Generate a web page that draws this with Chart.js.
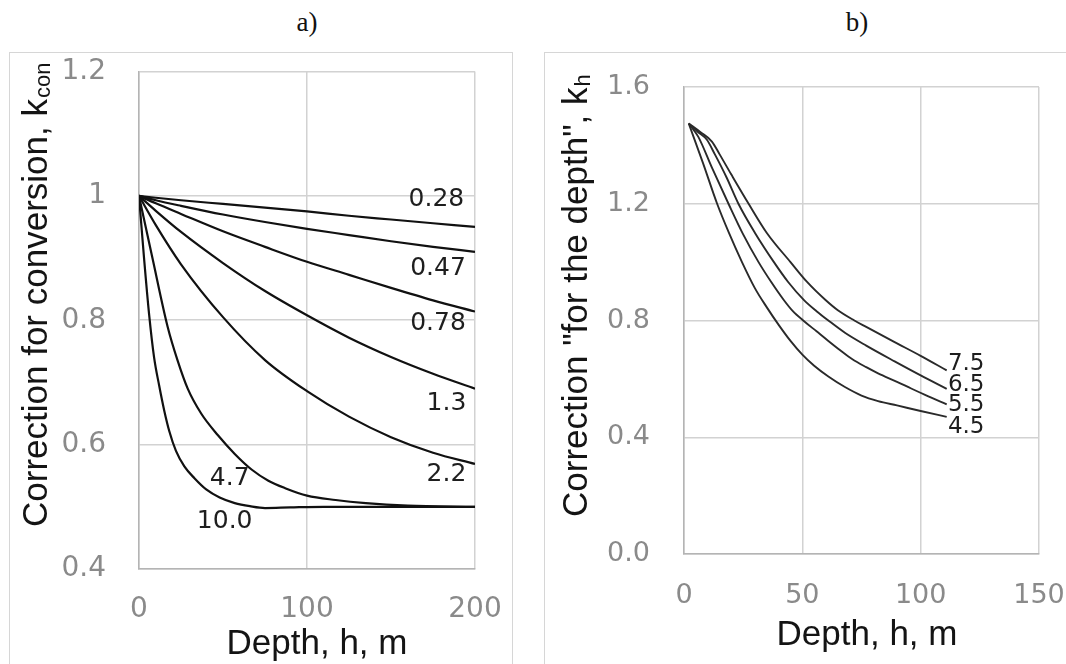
<!DOCTYPE html>
<html>
<head>
<meta charset="utf-8">
<script src="https://cdn.jsdelivr.net/npm/chart.js@4.4.1/dist/chart.umd.min.js"></script>
<style>
  html, body { margin: 0; padding: 0; background: #fff; }
  body { width: 1066px; height: 664px; overflow: hidden; position: relative; }
  .frame { position: absolute; border: 1px solid #d6d6d6; box-sizing: border-box; }
  .cap { position: absolute; top: 8px; font: 27px "Liberation Serif", serif; line-height: 28px; color: #111; transform: translateX(-50%); }
  .wrap { position: absolute; top: 0; }
  canvas { display: block; }
</style>
</head>
<body>
<div class="frame" style="left:9px;top:52px;width:504px;height:700px"></div>
<div class="frame" style="left:544px;top:52px;width:600px;height:700px"></div>
<div class="cap" style="left:307px">a)</div>
<div class="cap" style="left:857px">b)</div>
<div class="wrap" style="left:0"><canvas id="ca" width="530" height="664"></canvas></div>
<div class="wrap" style="left:540px"><canvas id="cb" width="560" height="664"></canvas></div>
<script>
// ---- a) correction for conversion, k_con, vs depth ----
const curveNamesA = ['0.28', '0.47', '0.78', '1.3', '2.2', '4.7', '10.0'];
const depthSmooth = [0, 10, 25, 50, 75, 100, 125, 150, 175, 200];
const kcon028 = [1, 0.997, 0.993, 0.987, 0.981, 0.975, 0.968, 0.962, 0.956, 0.950];
const kcon047 = [1, 0.993, 0.984, 0.970, 0.958, 0.947, 0.937, 0.927, 0.918, 0.910];
const kcon078 = [1, 0.988, 0.971, 0.943, 0.918, 0.894, 0.873, 0.852, 0.832, 0.814];
const kcon13  = [1, 0.976, 0.942, 0.892, 0.847, 0.808, 0.772, 0.741, 0.714, 0.690];
const kcon22  = [1, 0.953, 0.890, 0.805, 0.736, 0.686, 0.645, 0.612, 0.587, 0.569];
const depth47 = [0, 8, 17, 23, 29, 37, 47, 57, 67, 77, 87, 100, 117, 135, 160, 200];
const kcon47  = [1, 0.90, 0.79, 0.735, 0.69, 0.65, 0.615, 0.585, 0.56, 0.542, 0.53, 0.518, 0.511, 0.506, 0.502, 0.500];
const depth10 = [0, 3, 6, 9, 12, 15, 18, 22, 27, 33, 40, 48, 57, 66, 75, 90, 110, 200];
const kcon10  = [1, 0.90, 0.81, 0.74, 0.695, 0.655, 0.622, 0.59, 0.565, 0.546, 0.528, 0.515, 0.506, 0.501, 0.498, 0.499, 0.5, 0.5];
const xTicksA = [0, 100, 200];
const xTickLabelsA = ['0', '100', '200'];
const yTicksA = [0.4, 0.6, 0.8, 1.0, 1.2];
const yTickLabelsA = ['0.4', '0.6', '0.8', '1', '1.2'];

// ---- b) correction "for the depth", k_h, vs depth ----
const curveNamesB = ['4.5', '5.5', '6.5', '7.5'];
const depth45 = [2, 8, 14, 19, 24.5, 30, 35, 40, 45, 50, 55, 61, 68, 75, 82, 90, 100, 111];
const kh45    = [1.475, 1.34, 1.2, 1.1, 1.0, 0.91, 0.845, 0.785, 0.73, 0.683, 0.645, 0.608, 0.572, 0.543, 0.524, 0.509, 0.49, 0.47];
const depth55 = [2, 6, 12, 18.8, 25, 31.5, 37, 42, 46, 51, 56, 61, 66, 71, 77, 82, 90, 96, 103, 111];
const kh55    = [1.475, 1.43, 1.32, 1.2, 1.095, 1.0, 0.93, 0.872, 0.832, 0.796, 0.763, 0.73, 0.698, 0.668, 0.64, 0.619, 0.59, 0.567, 0.541, 0.513];
const depth65 = [2, 6, 9.6, 13, 18, 23, 30, 38, 44, 50.7, 56, 61, 68, 77, 89, 100, 111];
const kh65    = [1.475, 1.445, 1.42, 1.37, 1.29, 1.2, 1.1, 1.0, 0.932, 0.87, 0.832, 0.8, 0.758, 0.714, 0.66, 0.612, 0.566];
const depth75 = [2, 7, 11.8, 15, 20, 27.3, 35, 45, 52, 59.8, 65, 72, 77, 89, 100, 111];
const kh75    = [1.475, 1.445, 1.413, 1.37, 1.3, 1.2, 1.1, 1.0, 0.932, 0.87, 0.835, 0.8, 0.778, 0.726, 0.679, 0.629];
const xTicksB = [0, 50, 100, 150];
const xTickLabelsB = ['0', '50', '100', '150'];
const yTicksB = [0, 0.4, 0.8, 1.2, 1.6];
const yTickLabelsB = ['0.0', '0.4', '0.8', '1.2', '1.6'];

const pairs = (xs, ys) => xs.map((x, i) => ({ x: x, y: ys[i] }));

// Writes curve names, axis titles and the subscripted y title
const panelText = {
  id: 'panelText',
  afterDraw(chart, args, o) {
    const ctx = chart.ctx;
    const sx = chart.scales.x, sy = chart.scales.y;
    ctx.save();
    ctx.fillStyle = o.labelColor;
    ctx.font = o.labelFont;
    ctx.textBaseline = 'middle';
    o.labels.forEach(l => {
      ctx.textAlign = l.align || 'center';
      ctx.fillText(l.text, sx.getPixelForValue(l.h), sy.getPixelForValue(l.k));
    });
    ctx.fillStyle = o.titleColor;
    ctx.font = o.titleFont;
    ctx.textAlign = 'center';
    ctx.textBaseline = 'alphabetic';
    ctx.fillText(o.xTitle.text, o.xTitle.x, o.xTitle.y);
    const yt = o.yTitle;
    const wMain = ctx.measureText(yt.main).width;
    ctx.translate(yt.x, yt.y);
    ctx.rotate(-Math.PI / 2);
    ctx.textAlign = 'left';
    ctx.fillText(yt.main, 0, 0);
    ctx.font = o.subFont;
    ctx.fillText(yt.sub, wMain + 1, yt.drop);
    ctx.restore();
  }
};

function axisOpts(min, max, ticks, labels, fitSize, pad, fontSize, isX) {
  return {
    type: 'linear', min: min, max: max,
    afterBuildTicks: s => { s.ticks = ticks.map(v => ({ value: v })); },
    afterFit: s => { if (isX) s.height = fitSize; else s.width = fitSize; },
    grid: { color: '#d2d2d2', lineWidth: 1.5, drawTicks: false },
    border: { color: '#b4b4b4', width: 1.5 },
    ticks: {
      padding: pad, color: '#8a8a8a',
      font: { family: 'DejaVu Sans', size: fontSize },
      callback: (v, i) => labels[i]
    }
  };
}

function lineSet(points, width, color) {
  return {
    data: points, borderColor: color, borderWidth: width,
    pointRadius: 0, fill: false, cubicInterpolationMode: 'monotone'
  };
}

const seriesA = [
  pairs(depthSmooth, kcon028), pairs(depthSmooth, kcon047), pairs(depthSmooth, kcon078),
  pairs(depthSmooth, kcon13), pairs(depthSmooth, kcon22), pairs(depth47, kcon47), pairs(depth10, kcon10)
];
const placeA = [[177, 0.994], [178, 0.883], [178, 0.794], [183, 0.666], [183, 0.552], [54, 0.545], [51, 0.476]];

new Chart(document.getElementById('ca'), {
  type: 'line',
  data: { datasets: seriesA.map(p => lineSet(p, 2.2, '#111')) },
  options: {
    responsive: false, animation: false, events: [],
    layout: { padding: { left: 0, top: 71.5, right: 55, bottom: 0 } },
    scales: {
      x: axisOpts(0, 200, xTicksA, xTickLabelsA, 95, 24, 28, true),
      y: axisOpts(0.4, 1.2, yTicksA, yTickLabelsA, 139, 33, 28, false)
    },
    plugins: {
      legend: { display: false }, tooltip: { enabled: false },
      panelText: {
        labelColor: '#1e1e1e', labelFont: '25px "DejaVu Sans"',
        labels: curveNamesA.map((t, i) => ({ text: t, h: placeA[i][0], k: placeA[i][1] })),
        titleColor: '#141414', titleFont: '35px "Liberation Sans"', subFont: '22px "Liberation Sans"',
        xTitle: { text: 'Depth, h, m', x: 317, y: 654 },
        yTitle: { main: 'Correction for conversion, k', sub: 'con', x: 47, y: 527, drop: 3 }
      }
    }
  },
  plugins: [panelText]
});

const seriesB = [pairs(depth45, kh45), pairs(depth55, kh55), pairs(depth65, kh65), pairs(depth75, kh75)];
const placeB = [0.435, 0.510, 0.580, 0.652];

new Chart(document.getElementById('cb'), {
  type: 'line',
  data: { datasets: seriesB.map(p => lineSet(p, 1.9, '#2a2a2a')) },
  options: {
    responsive: false, animation: false, events: [],
    layout: { padding: { left: 0, top: 87, right: 61, bottom: 0 } },
    scales: {
      x: axisOpts(0, 150, xTicksB, xTickLabelsB, 110, 26, 27, true),
      y: axisOpts(0, 1.6, yTicksB, yTickLabelsB, 144, 34, 27, false)
    },
    plugins: {
      legend: { display: false }, tooltip: { enabled: false },
      panelText: {
        labelColor: '#1e1e1e', labelFont: '23px "DejaVu Sans"',
        labels: curveNamesB.map((t, i) => ({ text: t, h: 111.5, k: placeB[i], align: 'left' })),
        titleColor: '#141414', titleFont: '35px "Liberation Sans"', subFont: '22px "Liberation Sans"',
        xTitle: { text: 'Depth, h, m', x: 327, y: 645 },
        yTitle: { main: 'Correction "for the depth", k', sub: 'h', x: 47, y: 517, drop: 3 }
      }
    }
  },
  plugins: [panelText]
});
</script>
</body>
</html>
